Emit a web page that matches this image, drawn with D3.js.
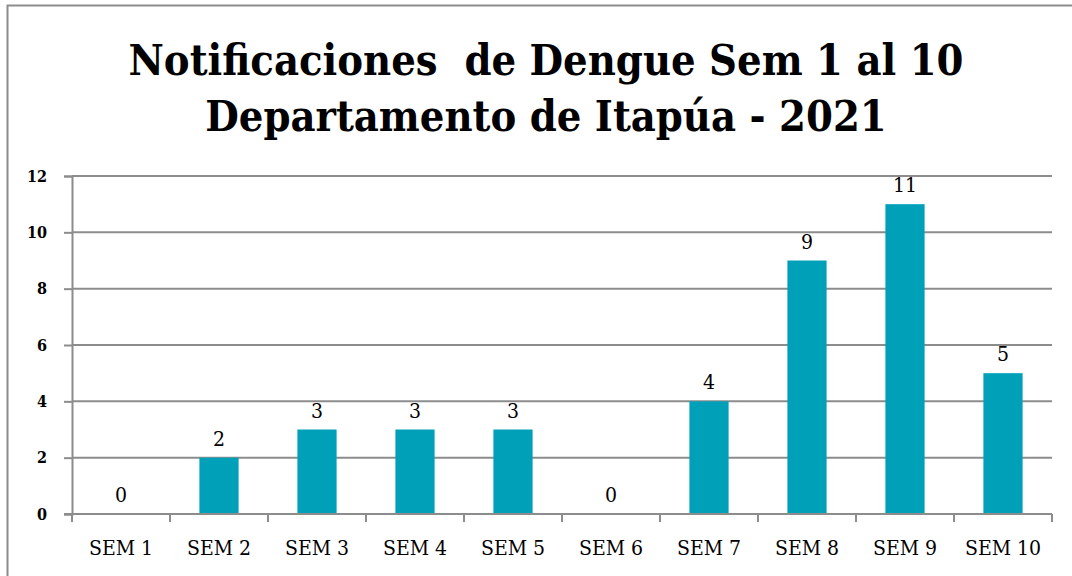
<!DOCTYPE html>
<html>
<head>
<meta charset="utf-8">
<script src="https://cdn.jsdelivr.net/npm/d3@7"></script>
<style>
  body { margin: 0; background: white; }
  svg text { font-family: "DejaVu Serif Condensed", "DejaVu Serif", serif; }
</style>
</head>
<body>
<div id="chart"></div>
<script>
let semanas = ["SEM 1", "SEM 2", "SEM 3", "SEM 4", "SEM 5", "SEM 6", "SEM 7", "SEM 8", "SEM 9", "SEM 10"];
let casos = [0, 2, 3, 3, 3, 0, 4, 9, 11, 5];
let yTicks = [0, 2, 4, 6, 8, 10, 12];
let titulo = ["Notificaciones  de Dengue Sem 1 al 10", "Departamento de Itapúa - 2021"];

let w = 1072;
let h = 576;

let svg = d3.select("#chart")
  .append("svg")
    .attr("width", w)
    .attr("height", h)
    .style("display", "block");

// outer frame
svg.append("rect")
  .attr("x", 7.5).attr("y", 5.5)
  .attr("width", w + 20).attr("height", h + 20)
  .attr("fill", "white")
  .attr("stroke", "#8c8c8c")
  .attr("stroke-width", 2);

// title
svg.selectAll(".titulo")
  .data(titulo)
  .enter()
  .append("text")
  .attr("class", "titulo")
  .text(d => d)
  .attr("x", 546)
  .attr("y", (d, i) => 75 + i * 56)
  .attr("text-anchor", "middle")
  .style("font-weight", "bold")
  .style("font-size", "43px")
  .style("white-space", "pre")
  .attr("fill", "black");

let x = d3.scaleBand()
  .domain(semanas)
  .range([72, 1052])
  .paddingInner(0.6)
  .paddingOuter(0.3);

let xPos = d3.scaleBand().domain(semanas).range([72, 1052]);

let y = d3.scaleLinear()
  .domain([0, 12])
  .range([514, 176]);

// y axis
let yAxis = d3.axisLeft(y)
  .tickValues(yTicks)
  .tickSize(8)
  .tickPadding(17);

let gy = svg.append("g")
  .attr("transform", "translate(72,0)")
  .call(yAxis);
gy.select(".domain").attr("stroke", "#8c8c8c").attr("stroke-width", 2);
gy.selectAll(".tick line").attr("stroke", "#8c8c8c").attr("stroke-width", 2);
gy.selectAll(".tick text")
  .style("font-weight", "bold")
  .style("font-size", "16px")
  .attr("fill", "black");

// gridlines
svg.append("g")
  .selectAll("line")
  .data(yTicks.filter(d => d > 0))
  .enter()
  .append("line")
  .attr("x1", 72).attr("x2", 1052)
  .attr("y1", d => y(d)).attr("y2", d => y(d))
  .attr("stroke", "#8c8c8c")
  .attr("stroke-width", 2);

// bars
svg.append("g")
  .selectAll("rect")
  .data(casos)
  .enter()
  .append("rect")
  .attr("x", (d, i) => x(semanas[i]))
  .attr("y", d => y(d))
  .attr("width", x.bandwidth())
  .attr("height", d => y(0) - y(d))
  .attr("fill", "#00A0B9");

// x axis
let xAxis = d3.axisBottom(xPos)
  .tickSize(0)
  .tickPadding(26);
let gx = svg.append("g")
  .attr("transform", "translate(0," + y(0) + ")")
  .call(xAxis);
gx.select(".domain").remove();
gx.append("line")
  .attr("x1", 64).attr("x2", 1052)
  .attr("stroke", "#8c8c8c").attr("stroke-width", 2);
gx.selectAll(".sep")
  .data(d3.range(semanas.length + 1))
  .enter()
  .append("line")
  .attr("x1", d => 72 + d * xPos.step())
  .attr("x2", d => 72 + d * xPos.step())
  .attr("y1", 0).attr("y2", 8)
  .attr("stroke", "#8c8c8c").attr("stroke-width", 2);
gx.selectAll(".tick text")
  .style("font-size", "21px")
  .attr("fill", "black")
  .attr("dy", "0.7em");

// data labels
svg.append("g")
  .selectAll("text")
  .data(casos)
  .enter()
  .append("text")
  .text(d => d)
  .attr("x", (d, i) => x(semanas[i]) + x.bandwidth() / 2)
  .attr("y", d => y(d) - 12)
  .attr("text-anchor", "middle")
  .style("font-size", "21px")
  .attr("fill", "black");
</script>
</body>
</html>
